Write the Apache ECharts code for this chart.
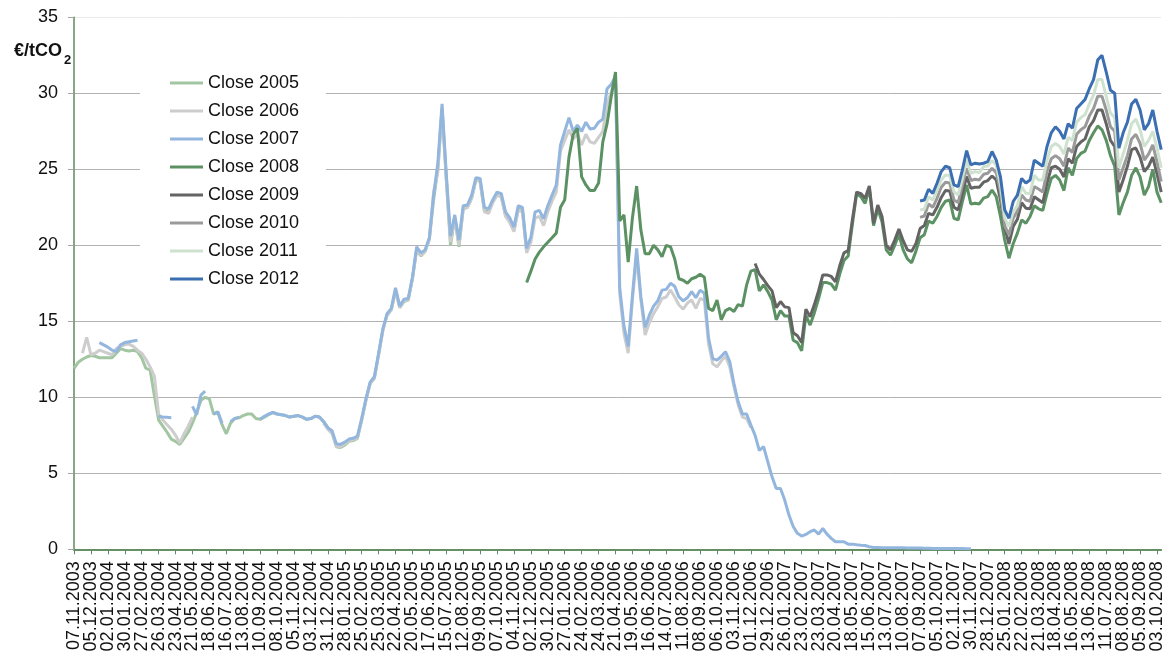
<!DOCTYPE html>
<html>
<head>
<meta charset="utf-8">
<script src="https://cdn.jsdelivr.net/npm/echarts@6/dist/echarts.min.js"></script>
<style>
  html, body { margin: 0; padding: 0; background: #fff; }
  #chart { width: 1166px; height: 658px; }
</style>
</head>
<body>
<div id="chart"></div>
<script>
// weekly closes, x = week number counted from 07.11.2003
const tickLabels = [
  '07.11.2003', '05.12.2003', '02.01.2004', '30.01.2004', '27.02.2004', '26.03.2004', '23.04.2004',
  '21.05.2004', '18.06.2004', '16.07.2004', '13.08.2004', '10.09.2004', '08.10.2004', '05.11.2004',
  '03.12.2004', '31.12.2004', '28.01.2005', '25.02.2005', '25.03.2005', '22.04.2005', '20.05.2005',
  '17.06.2005', '15.07.2005', '12.08.2005', '09.09.2005', '07.10.2005', '04.11.2005', '02.12.2005',
  '30.12.2005', '27.01.2006', '24.02.2006', '24.03.2006', '21.04.2006', '19.05.2006', '16.06.2006',
  '14.07.2006', '11.08.2006', '08.09.2006', '06.10.2006', '03.11.2006', '01.12.2006', '29.12.2006',
  '26.01.2007', '23.02.2007', '23.03.2007', '20.04.2007', '18.05.2007', '15.06.2007', '13.07.2007',
  '10.08.2007', '07.09.2007', '05.10.2007', '02.11.2007', '30.11.2007', '28.12.2007', '25.01.2008',
  '22.02.2008', '21.03.2008', '18.04.2008', '16.05.2008', '13.06.2008', '11.07.2008', '08.08.2008',
  '05.09.2008', '03.10.2008'
];

const seriesNames = ['Close 2005', 'Close 2006', 'Close 2007', 'Close 2008',
                     'Close 2009', 'Close 2010', 'Close 2011', 'Close 2012'];

// first week of each series
const startWeeks = [0, 2, 6, 107, 161, 200, 200, 200];

const close2005 = [
  11.9, 12.3, 12.5, 12.65, 12.75, 12.7, 12.6, 12.6, 12.6, 12.6,
  12.9, 13.2, 13.1, 13.05, 13.1, 13.0, 12.6, 11.9, 11.8, 10.1,
  8.5, 8.1, 7.7, 7.25, 7.1, 6.9, 7.3, 7.7, 8.3, 9.0,
  9.8, 10.0, 9.9, 8.9, 9.0, 8.2, 7.6, 8.3, 8.6, 8.65,
  8.8, 8.9, 8.9, 8.6, 8.55, 8.7, 8.85, 9.0, 8.9, 8.85,
  8.8, 8.7, 8.75, 8.8, 8.7, 8.55, 8.6, 8.75, 8.7, 8.4,
  8.0, 7.7, 6.75, 6.7, 6.85, 7.1, 7.15, 7.3,
  8.5, 9.8, 10.9, 11.25, 12.8, 14.4, 15.4, 15.75, 17.0, 15.9, 16.3, 16.4,
  17.8, 19.7, 19.3, 19.6, 20.4, 23.0, 25.0, 29.0, 24.3, 20.0,
  21.8, 19.9, 22.4, 22.5, 23.1, 24.3, 24.2, 22.3, 22.2, 22.9,
  23.3, 23.2, 22.0, 21.6, 21.0, 22.4, 22.3, 19.6
];

const close2006 = [
  12.9, 13.95, 12.8, 12.9, 13.1, 13.0, 12.9, 12.8,
  13.2, 13.35, 13.45, 13.5, 13.35, 13.1, 12.9, 12.5, 12.0, 11.4,
  8.9, 8.5, 8.2, 7.9, 7.5, 7.0, 7.6, 8.1, 8.7,
  null, null, null, null, null, null, null, null, null, null,
  null, null, null, null, null, null, null, null, null, null,
  null, null, null, null, null, null, null, null, null, null,
  8.3, 7.9, 7.6, 6.8, 6.75, 6.95, 7.15, 7.2, 7.35,
  8.5, 9.8, 10.9, 11.25, 12.8, 14.4, 15.4, 15.75, 17.05, 15.9, 16.35, 16.4,
  17.8, 19.75, 19.35, 19.6, 20.4, 23.5, 24.8, 29.0, 24.5, 20.2,
  21.85, 20.0, 22.4, 22.5, 23.1, 24.3, 24.2, 22.2, 22.1, 22.8,
  23.3, 23.2, 21.9, 21.5, 20.9, 22.3, 22.2, 19.5, 20.2, 21.8,
  21.9, 21.3, 22.2, 22.9, 23.5, 26.2, 26.9, 27.6, 27.0, 27.3,
  26.6, 27.3, 26.8, 26.7, 27.1, 27.5, 29.3, 30.1, 31.0, 16.8,
  14.2, 12.9, 16.4, 19.25, 16.4, 14.1, 14.9, 15.5, 15.96, 16.5,
  16.6, 17.06, 16.6, 16.07, 15.8, 16.2, 16.4, 15.85, 16.5, 16.4,
  13.5, 12.2, 12.0, 12.4, 12.7, 12.0, 10.7, 9.5, 8.7, 8.6, 8.0
];

const close2007 = [
  13.6, 13.45, 13.3, 13.1, 13.0, 13.45, 13.6, 13.65, 13.7, 13.75,
  null, null, null, null,
  8.75, 8.7, 8.68, 8.66,
  null, null, null, null,
  9.4, 8.85, 10.15, 10.4,
  null,
  8.9, 9.05, 8.3,
  null,
  8.4, 8.6, 8.7,
  null, null, null, null,
  8.55, 8.75, 8.9, 9.0,
  8.9, 8.85, 8.8, 8.7, 8.75, 8.8, 8.7, 8.55, 8.6, 8.75,
  8.7, 8.4, 8.0, 7.8, 6.95, 6.9, 7.05, 7.25, 7.3, 7.45,
  8.6, 9.9, 11.0, 11.35, 12.9, 14.5, 15.5, 15.85, 17.2, 16.0, 16.45, 16.5,
  17.9, 19.9, 19.5, 19.7, 20.5, 23.3, 25.4, 29.3, 24.7, 20.6,
  22.0, 20.35, 22.6, 22.65, 23.3, 24.45, 24.4, 22.5, 22.4, 23.0,
  23.5, 23.4, 22.2, 21.8, 21.2, 22.6, 22.5, 19.8, 20.55, 22.2,
  22.3, 21.75, 22.6, 23.3, 23.97, 26.6, 27.5, 28.4, 27.5, 27.9,
  27.5, 28.1, 27.65, 27.7, 28.1, 28.3, 30.3, 30.6, 31.1, 17.2,
  14.7, 13.35, 16.7, 19.8, 16.6, 14.6, 15.4, 16.0, 16.35, 17.05,
  17.1, 17.5, 17.3, 16.6, 16.35, 16.55, 16.95, 16.55, 17.05, 16.85,
  13.9, 12.55, 12.45, 12.7, 13.0, 12.35, 10.9, 9.7, 8.9, 8.9,
  8.17, 7.5, 6.5, 6.75, 5.76, 4.77, 4.0, 4.0, 3.24, 2.25,
  1.5, 1.05, 0.87, 0.98, 1.16, 1.27, 1.0, 1.37, 1.0, 0.72,
  0.5, 0.5, 0.5, 0.34, 0.34, 0.3, 0.27, 0.25, 0.17, 0.12,
  0.12, 0.11, 0.11, 0.1, 0.1, 0.1, 0.1, 0.09, 0.08, 0.08,
  0.08, 0.07, 0.07, 0.06, 0.06, 0.06, 0.05, 0.05, 0.05, 0.06, 0.05, 0.04, 0.03
];

const close2008 = [
  17.55, 18.3, 19.1,
  19.55, 19.9, 20.2, 20.5, 20.8, 22.5, 23.0, 25.8, 27.3, 27.7,
  24.5, 23.97, 23.6, 23.6, 24.1, 26.8, 28.0, 29.8, 31.4, 21.6,
  22.0, 18.9, 21.8, 23.9, 21.0, 19.45, 19.45, 20.0, 19.7, 19.25,
  20.0, 19.9, 19.1, 17.8, 17.7, 17.5, 17.8, 17.9, 18.1, 17.9,
  15.85, 15.7, 16.4, 15.1, 15.7, 15.85, 15.65, 16.1, 16.0, 17.4,
  18.3, 18.4, 17.0, 17.4, 16.95, 16.4, 15.1, 15.7, 15.35, 15.35,
  13.75, 13.6, 13.05, 15.4, 14.75, 15.55, 16.5, 17.55, 17.55, 17.45,
  17.05, 18.1, 19.0, 19.3, 21.4, 23.4, 23.2, 22.76, 23.75, 21.3,
  22.4, 21.55, 19.7, 19.36, 20.0, 20.7, 19.7, 19.1, 18.85, 19.6,
  20.5, 20.7, 21.6, 21.45, 21.9, 22.5, 22.9, 22.98, 21.78, 21.67,
  22.88, 23.97, 22.72, 22.77, 22.72, 23.1, 23.2, 23.64, 23.2, 21.9,
  20.35, 19.15, 20.1, 20.8, 21.67, 21.45, 21.9, 22.6, 22.4, 22.3,
  23.4, 24.4, 24.6, 24.3, 23.6, 25.1, 24.6, 25.7, 26.05, 26.2,
  26.9, 27.4, 27.85, 27.6, 26.9, 25.9, 25.2, 22.0, 22.8, 23.5,
  24.6, 25.1, 24.5, 23.3, 23.86, 25.0, 23.5, 22.8
];

const close2009 = [
  18.8, 18.1, 17.75, 17.35, 17.0, 15.9, 16.3, 15.95, 15.9,
  14.25, 14.05, 13.6, 15.8, 15.3, 16.1, 17.0, 18.05, 18.05, 17.95,
  17.6, 18.65, 19.5, 19.65, 21.7, 23.5, 23.4, 23.1, 23.9, 21.45,
  22.65, 21.9, 20.0, 19.7, 20.35, 21.07, 20.3, 19.7, 19.6, 20.1,
  21.1, 21.3, 22.1, 22.0, 22.5, 23.15, 23.6, 23.58, 22.5, 22.33,
  23.42, 24.52, 23.75, 23.82, 23.82, 24.15, 24.26, 24.56, 24.3, 22.98,
  21.2, 20.1, 21.23, 21.71, 22.81, 22.44, 22.4, 23.2, 23.0, 22.8,
  24.1, 25.1, 25.2, 25.0, 24.5, 25.7, 25.4, 26.5, 26.8, 27.0,
  27.8, 28.2, 28.9, 28.9, 28.0, 26.9, 26.5, 23.5, 24.3, 25.2,
  26.3, 26.4, 25.8, 24.85, 25.2, 25.8, 24.7, 23.5
];

const close2010 = [
  21.84, 21.93, 22.72, 22.5, 23.09, 23.82, 24.15, 24.1, 22.98, 22.81,
  23.97, 25.07, 24.26, 24.35, 24.3, 24.67, 24.74, 25.07, 24.78, 23.53,
  21.27, 20.68, 21.78, 22.26, 23.31, 22.98, 22.9, 23.86, 23.7, 23.5,
  24.85, 25.7, 25.9, 25.7, 25.2, 26.4, 26.1, 27.3, 27.6, 27.8,
  28.5, 29.0, 29.8, 29.8, 28.9, 27.8, 27.5, 24.3, 25.1, 25.9,
  27.0, 27.3, 26.7, 25.6, 26.0, 26.6, 25.5, 24.2
];

const close2011 = [
  22.33, 22.37, 23.2, 22.98, 23.64, 24.3, 24.63, 24.59, 23.53, 23.31,
  24.41, 25.62, 24.74, 24.85, 24.78, 25.18, 25.22, 25.57, 25.29, 23.97,
  21.78, 21.23, 22.22, 22.6, 23.86, 23.42, 23.4, 24.6, 24.3, 24.3,
  25.6, 26.5, 26.7, 26.5, 26.0, 27.1, 26.9, 28.1, 28.4, 28.6,
  29.3, 29.9, 30.9, 30.9, 29.8, 28.7, 28.4, 25.1, 26.0, 26.9,
  28.0, 28.3, 27.6, 26.5, 26.9, 27.5, 26.4, 25.1
];

const close2012 = [
  22.92, 22.98, 23.69, 23.42, 24.08, 24.85, 25.2, 25.1, 23.97, 23.86,
  24.96, 26.23, 25.29, 25.4, 25.35, 25.4, 25.5, 26.17, 25.6, 24.5,
  22.33, 21.78, 22.88, 23.3, 24.4, 24.1, 24.3, 25.6, 25.4, 25.2,
  26.5, 27.4, 27.8, 27.5, 27.0, 28.0, 27.7, 29.0, 29.3, 29.6,
  30.3, 30.9, 32.2, 32.5, 31.4, 30.2, 30.0, 26.4, 27.4, 28.1,
  29.3, 29.6, 28.9, 27.6, 28.0, 28.9, 27.5, 26.3
];

const allCloses = [close2005, close2006, close2007, close2008,
                   close2009, close2010, close2011, close2012];

const colors = ['#a2c5a2', '#cdcdcd', '#93b6de', '#5b9163',
                '#646464', '#9a9a9a', '#cfe2cf', '#3b6fb2'];

const FONT = '"Liberation Sans", Arial, sans-serif';

const chart = echarts.init(document.getElementById('chart'));

const series = allCloses.map((vals, k) => ({
  name: seriesNames[k],
  type: 'line',
  xAxisIndex: 0,
  data: vals.map((v, i) => [startWeeks[k] + i, v]),
  showSymbol: false,
  symbol: 'none',
  connectNulls: false,
  color: colors[k],
  lineStyle: { width: 3, color: colors[k] },
  z: 2 + k
}));

// every tick sits at a multiple of 4 weeks; split in two sets so that
// echarts does not drop the labels next to the first and last ones
const tickWeeks = tickLabels.map((_, i) => i * 4);
const evenTicks = tickWeeks.filter((_, i) => i % 2 === 0);
const oddTicks = tickWeeks.filter((_, i) => i % 2 === 1);

function makeXAxis(ticks) {
  return {
    type: 'value',
    position: 'bottom',
    min: 0,
    max: 257,
    axisLine: { lineStyle: { color: '#5f8a5f', width: 1.5 } },
    axisTick: { show: true, length: 5, customValues: ticks, lineStyle: { color: '#5f8a5f' } },
    axisLabel: {
      customValues: ticks,
      rotate: 90,
      margin: 12,
      fontSize: 18,
      color: '#111',
      fontFamily: FONT,
      formatter: v => tickLabels[Math.round(v / 4)] || ''
    },
    splitLine: { show: false }
  };
}

chart.setOption({
  animation: false,
  textStyle: { fontFamily: FONT },
  grid: { left: 74, right: 2, top: 17.3, bottom: 108.7, containLabel: false },
  legend: {
    orient: 'vertical',
    left: 140,
    top: 64,
    padding: [10, 27, 10, 30],
    backgroundColor: '#fff',
    icon: 'rect',
    itemWidth: 33,
    itemHeight: 3,
    itemGap: 10,
    itemTextGap: 8,
    data: seriesNames,
    textStyle: { fontSize: 18, lineHeight: 18, color: '#111', fontFamily: FONT },
    z: 20
  },
  xAxis: [makeXAxis(evenTicks), makeXAxis(oddTicks)],
  yAxis: {
    type: 'value',
    min: 0,
    max: 35,
    interval: 5,
    axisLine: { show: true, lineStyle: { color: '#5f8a5f', width: 1.5 } },
    axisTick: { show: true, length: 6, lineStyle: { color: '#a8a8a8' } },
    axisLabel: { margin: 16, fontSize: 18, color: '#111', fontFamily: FONT },
    splitLine: {
      lineStyle: {
        color: ['#b2b2b2', '#b2b2b2', '#b2b2b2', '#b2b2b2', '#b2b2b2', '#b2b2b2', '#b2b2b2', '#ececec'],
        width: 1
      }
    }
  },
  graphic: [
    {
      type: 'text', left: 14, top: 42, z: 30,
      style: { text: '€/tCO', font: 'bold 18px ' + FONT, fill: '#111' }
    },
    {
      type: 'text', left: 64, top: 54, z: 30,
      style: { text: '2', font: 'bold 13px ' + FONT, fill: '#111' }
    }
  ],
  series: series
});
</script>
</body>
</html>
